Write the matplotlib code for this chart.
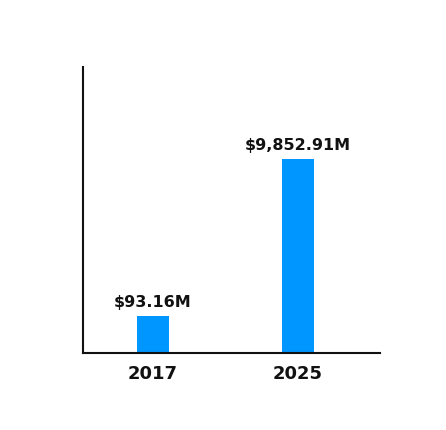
import matplotlib
matplotlib.use('Agg')
import matplotlib.pyplot as plt

years = ['2017', '2025']
values = [93.16, 9852.91]
labels = ['$93.16M', '$9,852.91M']

fig = plt.figure(figsize=(4.46, 4.31), dpi=100)
ax = fig.add_axes([83/446, 1-354/431, 297/446, 286/431])

x = list(range(len(years)))
ax.bar(x, values, width=0.22, color='#0096FF')
ax.set_yscale('log')
ax.set_ylim(30.8, 151700)
ax.set_xlim(-0.483, 1.566)

for xi, v, lab in zip(x, values, labels):
    ax.annotate(lab, (xi, v), xytext=(0, 5), textcoords='offset points',
                ha='center', va='bottom', fontsize=11.5, fontweight='bold', color='#111111')

ax.set_xticks(x)
ax.set_xticklabels(years, fontsize=13, fontweight='bold', color='#111111')
ax.tick_params(axis='x', length=0, pad=8)
ax.set_yticks([])
ax.minorticks_off()
ax.yaxis.set_minor_locator(matplotlib.ticker.NullLocator())
for s in ['top', 'right']:
    ax.spines[s].set_visible(False)
for s in ['left', 'bottom']:
    ax.spines[s].set_linewidth(1.5)
    ax.spines[s].set_color('#111111')

fig.savefig('out.png', dpi=100)
